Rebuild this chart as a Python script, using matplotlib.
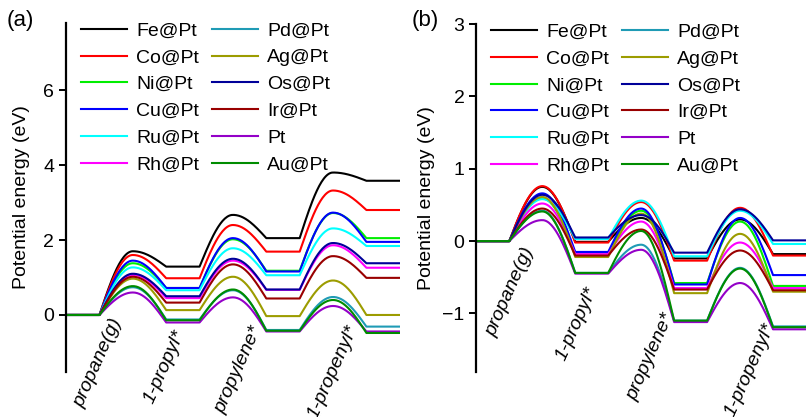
import numpy as np
import matplotlib
matplotlib.use("Agg")
import matplotlib.pyplot as plt

plt.rcParams['font.family'] = ['Liberation Sans', 'DejaVu Sans']

# states: propane(g), TS1, 1-propyl*, TS2, propylene*, TS3, 1-propenyl*
states = ['propane(g)', '1-propyl*', 'propylene*', '1-propenyl*']
names = ['Fe@Pt', 'Co@Pt', 'Ni@Pt', 'Cu@Pt', 'Ru@Pt', 'Rh@Pt',
         'Pd@Pt', 'Ag@Pt', 'Os@Pt', 'Ir@Pt', 'Pt', 'Au@Pt']
colors = ['#000000', '#ff0000', '#00ee00', '#0000ff', '#00ffff', '#ff00ff',
          '#1f9bb5', '#9c9c00', '#000099', '#990000', '#9400c8', '#008c00']

# panel (a) energies (eV)
fe_a = [0, 1.70, 1.29, 2.67, 2.05, 3.80, 3.58]
co_a = [0, 1.60, 0.98, 2.40, 1.69, 3.32, 2.80]
ni_a = [0, 1.38, 0.72, 2.02, 1.18, 2.72, 2.05]
cu_a = [0, 1.45, 0.72, 2.05, 1.16, 2.73, 1.95]
ru_a = [0, 1.27, 0.66, 1.78, 1.06, 2.31, 1.84]
rh_a = [0, 1.07, 0.45, 1.45, 0.67, 1.86, 1.26]
pd_a = [0, 0.74, -0.12, 0.66, -0.40, 0.48, -0.31]
ag_a = [0, 0.97, 0.13, 1.02, -0.03, 0.92, 0.00]
os_a = [0, 1.10, 0.50, 1.50, 0.68, 1.92, 1.38]
ir_a = [0, 1.02, 0.33, 1.35, 0.44, 1.57, 0.99]
pt_a = [0, 0.60, -0.20, 0.47, -0.44, 0.24, -0.44]
au_a = [0, 0.77, -0.14, 0.68, -0.42, 0.40, -0.48]

# panel (b) energies (eV)
fe_b = [0, 0.75, -0.01, 0.32, -0.24, 0.30, -0.18]
co_b = [0, 0.76, -0.02, 0.54, -0.27, 0.46, -0.20]
ni_b = [0, 0.59, -0.17, 0.42, -0.58, 0.27, -0.62]
cu_b = [0, 0.66, -0.15, 0.45, -0.60, 0.32, -0.47]
ru_b = [0, 0.58, 0.03, 0.56, -0.21, 0.42, -0.04]
rh_b = [0, 0.52, -0.18, 0.27, -0.65, -0.02, -0.65]
pd_b = [0, 0.42, -0.44, -0.05, -1.10, -0.37, -1.18]
ag_b = [0, 0.61, -0.22, 0.38, -0.72, 0.10, -0.70]
os_b = [0, 0.64, 0.05, 0.36, -0.16, 0.44, 0.01]
ir_b = [0, 0.45, -0.20, 0.16, -0.67, -0.13, -0.68]
pt_b = [0, 0.29, -0.45, -0.12, -1.12, -0.58, -1.22]
au_b = [0, 0.41, -0.44, 0.14, -1.10, -0.38, -1.19]

series_a = [fe_a, co_a, ni_a, cu_a, ru_a, rh_a, pd_a, ag_a, os_a, ir_a, pt_a, au_a]
series_b = [fe_b, co_b, ni_b, cu_b, ru_b, rh_b, pd_b, ag_b, os_b, ir_b, pt_b, au_b]


def profile(e):
    # flat segment for each state, smooth hump through each transition state
    xs, ys = [], []
    for i in range(4):
        x0 = 3 * i
        xs += [x0, x0 + 1]
        ys += [e[2 * i], e[2 * i]]
        if i < 3:
            a, p, b = e[2 * i], e[2 * i + 1], e[2 * i + 2]
            t = np.linspace(0, 1, 30)[1:]
            xs += list(x0 + 1 + t)
            ys += list(a + (p - a) * np.sin(np.pi / 2 * t))
            xs += list(x0 + 2 + t)
            ys += list(p + (b - p) * (1 - np.cos(np.pi / 2 * t)))
    return np.array(xs), np.array(ys)


fig = plt.figure(figsize=(8.06, 4.17), dpi=100)
ax_a = fig.add_axes([0.082, 0.108, 0.414, 0.837])
ax_b = fig.add_axes([0.591, 0.108, 0.409, 0.834])

# label centres, axes fraction
lab_pos_a = [(0.096, 0.026), (0.296, 0.014), (0.518, 0.006), (0.799, 0.0)]
lab_pos_b = [(0.103, 0.230), (0.303, 0.138), (0.530, 0.043), (0.830, 0.006)]

for ax, series, ylim, yticks, lab_pos in [
        (ax_a, series_a, (-1.52, 7.79), [0, 2, 4, 6], lab_pos_a),
        (ax_b, series_b, (-1.81, 2.99), [-1, 0, 1, 2, 3], lab_pos_b)]:
    for e, name, c in zip(series, names, colors):
        x, y = profile(e)
        ax.plot(x, y, color=c, lw=1.5, label=name)
    ax.set_xlim(0, 10)
    ax.set_ylim(*ylim)
    ax.set_yticks(yticks)
    ax.set_xticks([])
    for side in ['top', 'right', 'bottom']:
        ax.spines[side].set_visible(False)
    ax.spines['left'].set_linewidth(1.6)
    ax.tick_params(axis='y', direction='out', length=5, width=1.4, labelsize=14)
    ax.set_ylabel('Potential energy (eV)', fontsize=14)
    for s, (tx, ty) in zip(states, lab_pos):
        ax.text(tx, ty, s, transform=ax.transAxes, rotation=66, fontsize=14,
                style='italic', ha='center', va='center', clip_on=False)
    ax.legend(ncol=2, frameon=False, fontsize=14, loc='upper left',
              bbox_to_anchor=(0.02, 1.025), borderaxespad=0,
              handlelength=2.4, handletextpad=0.45, columnspacing=0.65,
              labelspacing=0.47)

ax_a.yaxis.set_label_coords(-0.108, 0.5)
ax_b.yaxis.set_label_coords(-0.124, 0.5)
fig.text(0.008, 0.952, '(a)', fontsize=16, va='center')
fig.text(0.511, 0.952, '(b)', fontsize=16, va='center')

plt.savefig("out.png", dpi=100)
